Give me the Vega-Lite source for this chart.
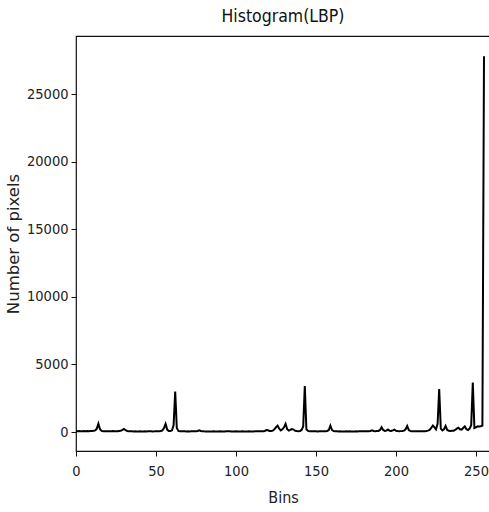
{
  "$schema": "https://vega.github.io/schema/vega-lite/v6.json",
  "width": 414,
  "height": 415,
  "autosize": {"type": "none"},
  "padding": {"left": 76, "top": 36, "right": 0, "bottom": 61},
  "background": "white",
  "title": {
    "text": "Histogram(LBP)",
    "font": "DejaVu Sans Condensed, Liberation Sans, sans-serif",
    "fontSize": 17.5,
    "fontWeight": "normal",
    "color": "#111",
    "anchor": "middle",
    "offset": 11
  },
  "config": {
    "view": {"stroke": "#111", "strokeWidth": 1.2},
    "axis": {
      "grid": false,
      "domain": false,
      "tickColor": "#111",
      "tickSize": 5,
      "labelFont": "DejaVu Sans Condensed, Liberation Sans, sans-serif",
      "labelFontSize": 14.5,
      "labelColor": "#222",
      "titleFontWeight": "normal",
      "titleColor": "#222"
    }
  },
  "data": {
    "values": [
      {"bin":0,"count":50},{"bin":1,"count":60},{"bin":2,"count":70},{"bin":3,"count":55},{"bin":4,"count":60},{"bin":5,"count":80},{"bin":6,"count":65},{"bin":7,"count":70},{"bin":8,"count":60},{"bin":9,"count":75},
      {"bin":10,"count":80},{"bin":11,"count":90},{"bin":12,"count":120},{"bin":13,"count":250},{"bin":14,"count":620},{"bin":15,"count":200},{"bin":16,"count":80},{"bin":17,"count":60},{"bin":18,"count":55},{"bin":19,"count":60},
      {"bin":20,"count":50},{"bin":21,"count":55},{"bin":22,"count":60},{"bin":23,"count":70},{"bin":24,"count":60},{"bin":25,"count":55},{"bin":26,"count":60},{"bin":27,"count":80},{"bin":28,"count":90},{"bin":29,"count":150},
      {"bin":30,"count":220},{"bin":31,"count":130},{"bin":32,"count":80},{"bin":33,"count":60},{"bin":34,"count":50},{"bin":35,"count":55},{"bin":36,"count":45},{"bin":37,"count":50},{"bin":38,"count":40},{"bin":39,"count":45},
      {"bin":40,"count":50},{"bin":41,"count":45},{"bin":42,"count":40},{"bin":43,"count":50},{"bin":44,"count":45},{"bin":45,"count":50},{"bin":46,"count":55},{"bin":47,"count":50},{"bin":48,"count":45},{"bin":49,"count":50},
      {"bin":50,"count":60},{"bin":51,"count":55},{"bin":52,"count":60},{"bin":53,"count":70},{"bin":54,"count":120},{"bin":55,"count":300},{"bin":56,"count":600},{"bin":57,"count":180},{"bin":58,"count":80},{"bin":59,"count":70},
      {"bin":60,"count":120},{"bin":61,"count":500},{"bin":62,"count":3000},{"bin":63,"count":300},{"bin":64,"count":80},{"bin":65,"count":60},{"bin":66,"count":50},{"bin":67,"count":55},{"bin":68,"count":50},{"bin":69,"count":45},
      {"bin":70,"count":50},{"bin":71,"count":45},{"bin":72,"count":50},{"bin":73,"count":55},{"bin":74,"count":50},{"bin":75,"count":60},{"bin":76,"count":80},{"bin":77,"count":130},{"bin":78,"count":80},{"bin":79,"count":60},
      {"bin":80,"count":50},{"bin":81,"count":45},{"bin":82,"count":40},{"bin":83,"count":45},{"bin":84,"count":40},{"bin":85,"count":45},{"bin":86,"count":50},{"bin":87,"count":45},{"bin":88,"count":40},{"bin":89,"count":45},
      {"bin":90,"count":50},{"bin":91,"count":45},{"bin":92,"count":40},{"bin":93,"count":45},{"bin":94,"count":50},{"bin":95,"count":55},{"bin":96,"count":50},{"bin":97,"count":45},{"bin":98,"count":40},{"bin":99,"count":45},
      {"bin":100,"count":50},{"bin":101,"count":45},{"bin":102,"count":40},{"bin":103,"count":45},{"bin":104,"count":50},{"bin":105,"count":45},{"bin":106,"count":40},{"bin":107,"count":45},{"bin":108,"count":50},{"bin":109,"count":45},
      {"bin":110,"count":40},{"bin":111,"count":45},{"bin":112,"count":50},{"bin":113,"count":55},{"bin":114,"count":50},{"bin":115,"count":60},{"bin":116,"count":55},{"bin":117,"count":60},{"bin":118,"count":80},{"bin":119,"count":150},
      {"bin":120,"count":130},{"bin":121,"count":80},{"bin":122,"count":70},{"bin":123,"count":100},{"bin":124,"count":200},{"bin":125,"count":350},{"bin":126,"count":470},{"bin":127,"count":250},{"bin":128,"count":120},{"bin":129,"count":200},
      {"bin":130,"count":350},{"bin":131,"count":600},{"bin":132,"count":200},{"bin":133,"count":100},{"bin":134,"count":150},{"bin":135,"count":220},{"bin":136,"count":180},{"bin":137,"count":90},{"bin":138,"count":70},{"bin":139,"count":60},
      {"bin":140,"count":80},{"bin":141,"count":150},{"bin":142,"count":400},{"bin":143,"count":3400},{"bin":144,"count":200},{"bin":145,"count":80},{"bin":146,"count":60},{"bin":147,"count":55},{"bin":148,"count":50},{"bin":149,"count":55},
      {"bin":150,"count":50},{"bin":151,"count":45},{"bin":152,"count":50},{"bin":153,"count":55},{"bin":154,"count":50},{"bin":155,"count":55},{"bin":156,"count":60},{"bin":157,"count":80},{"bin":158,"count":150},{"bin":159,"count":470},
      {"bin":160,"count":150},{"bin":161,"count":70},{"bin":162,"count":55},{"bin":163,"count":50},{"bin":164,"count":45},{"bin":165,"count":50},{"bin":166,"count":45},{"bin":167,"count":40},{"bin":168,"count":45},{"bin":169,"count":50},
      {"bin":170,"count":45},{"bin":171,"count":50},{"bin":172,"count":45},{"bin":173,"count":40},{"bin":174,"count":45},{"bin":175,"count":50},{"bin":176,"count":45},{"bin":177,"count":50},{"bin":178,"count":55},{"bin":179,"count":50},
      {"bin":180,"count":55},{"bin":181,"count":60},{"bin":182,"count":55},{"bin":183,"count":60},{"bin":184,"count":80},{"bin":185,"count":120},{"bin":186,"count":80},{"bin":187,"count":60},{"bin":188,"count":70},{"bin":189,"count":80},
      {"bin":190,"count":150},{"bin":191,"count":350},{"bin":192,"count":150},{"bin":193,"count":80},{"bin":194,"count":100},{"bin":195,"count":180},{"bin":196,"count":90},{"bin":197,"count":80},{"bin":198,"count":120},{"bin":199,"count":180},
      {"bin":200,"count":90},{"bin":201,"count":70},{"bin":202,"count":60},{"bin":203,"count":65},{"bin":204,"count":70},{"bin":205,"count":100},{"bin":206,"count":200},{"bin":207,"count":450},{"bin":208,"count":150},{"bin":209,"count":70},
      {"bin":210,"count":60},{"bin":211,"count":55},{"bin":212,"count":50},{"bin":213,"count":55},{"bin":214,"count":50},{"bin":215,"count":55},{"bin":216,"count":60},{"bin":217,"count":55},{"bin":218,"count":60},{"bin":219,"count":70},
      {"bin":220,"count":100},{"bin":221,"count":150},{"bin":222,"count":300},{"bin":223,"count":480},{"bin":224,"count":350},{"bin":225,"count":200},{"bin":226,"count":600},{"bin":227,"count":3180},{"bin":228,"count":250},{"bin":229,"count":120},
      {"bin":230,"count":200},{"bin":231,"count":450},{"bin":232,"count":150},{"bin":233,"count":90},{"bin":234,"count":80},{"bin":235,"count":90},{"bin":236,"count":100},{"bin":237,"count":150},{"bin":238,"count":250},{"bin":239,"count":320},
      {"bin":240,"count":200},{"bin":241,"count":180},{"bin":242,"count":300},{"bin":243,"count":420},{"bin":244,"count":200},{"bin":245,"count":150},{"bin":246,"count":250},{"bin":247,"count":500},{"bin":248,"count":3650},{"bin":249,"count":300},
      {"bin":250,"count":350},{"bin":251,"count":420},{"bin":252,"count":400},{"bin":253,"count":420},{"bin":254,"count":480},{"bin":255,"count":27800}
    ]
  },
  "mark": {"type": "line", "color": "#000", "strokeWidth": 2, "clip": true},
  "encoding": {
    "x": {
      "field": "bin",
      "type": "quantitative",
      "scale": {"domain": [0, 258.75], "nice": false, "zero": false},
      "axis": {"title": "Bins", "titleFont": "DejaVu Sans Condensed, Liberation Sans, sans-serif", "titleFontSize": 16, "titlePadding": 12, "values": [0, 50, 100, 150, 200, 250], "labelPadding": 8, "labelFlush": false}
    },
    "y": {
      "field": "count",
      "type": "quantitative",
      "scale": {"domain": [-1405, 29290], "nice": false, "zero": false},
      "axis": {"title": "Number of pixels", "titleFont": "DejaVu Sans", "titleFontSize": 16.5, "titlePadding": 5, "values": [0, 5000, 10000, 15000, 20000, 25000], "labelPadding": 3, "format": "d"}
    }
  }
}
